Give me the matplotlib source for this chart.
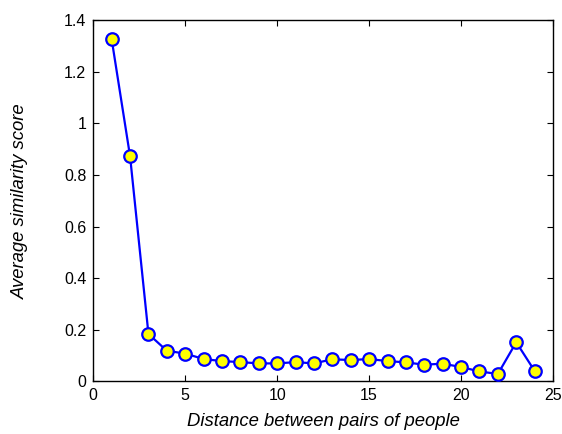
import matplotlib
matplotlib.use("Agg")
import matplotlib.pyplot as plt
from matplotlib.ticker import FuncFormatter

distance = list(range(1, 25))
similarity = [1.325, 0.872, 0.184, 0.119, 0.108, 0.087, 0.079, 0.075, 0.070, 0.070,
              0.075, 0.070, 0.086, 0.083, 0.087, 0.079, 0.074, 0.065, 0.069, 0.056,
              0.039, 0.029, 0.152, 0.041]
x_ticks = [0, 5, 10, 15, 20, 25]
y_ticks = [0, 0.2, 0.4, 0.6, 0.8, 1.0, 1.2, 1.4]

plt.rcParams['font.family'] = ['Liberation Sans', 'DejaVu Sans']

fig = plt.figure(figsize=(5.62, 4.34), dpi=100)
ax = fig.add_axes([0.166, 0.121, 0.818, 0.833])

ax.plot(distance, similarity, color='#0000ff', linewidth=1.6, marker='o',
        markersize=9, markerfacecolor='#ffff00', markeredgecolor='#0000ff',
        markeredgewidth=1.6, clip_on=False, zorder=3)

ax.set_xlim(0, 25)
ax.set_ylim(0, 1.4)
ax.set_xticks(x_ticks)
ax.set_yticks(y_ticks)
ax.yaxis.set_major_formatter(FuncFormatter(lambda v, p: ('%g' % round(v, 2))))
ax.tick_params(direction='in', top=True, right=True, length=4, width=0.8,
               labelsize=11.5, colors='black', pad=5)
for s in ax.spines.values():
    s.set_linewidth(1.0)
    s.set_color('black')

ax.set_xlabel('Distance between pairs of people', fontsize=13.3, style='italic')
ax.set_ylabel('Average similarity score', fontsize=13.3, style='italic')
ax.xaxis.label.set_va('center')
ax.yaxis.label.set_va('center')
ax.xaxis.set_label_coords(0.5, (381.5 - 422) / 361.5)
ax.yaxis.set_label_coords((20 - 93) / 460, 0.5)

fig.savefig('out.png', dpi=100)
